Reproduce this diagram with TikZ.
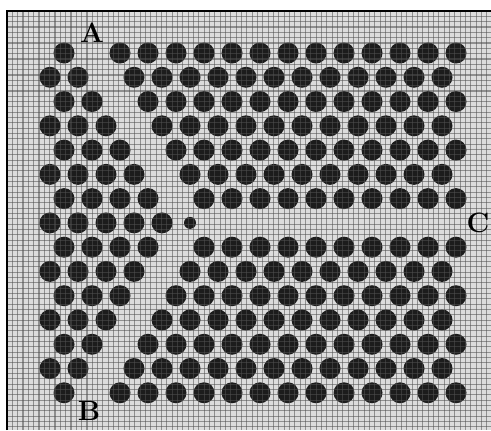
\documentclass[tikz,border=0pt]{standalone}
\usetikzlibrary{calc}
\definecolor{bgmesh}{HTML}{DCDCDC}
\definecolor{holefill}{HTML}{1C1C1C}
\definecolor{meshline}{HTML}{505050}
\tikzset{
  hole/.style={fill=holefill},
  smallhole/.style={fill=holefill},
  meshstroke/.style={draw=meshline, line width=0.55pt, opacity=0.55},
  frameline/.style={draw=black, line width=1pt},
  lbl/.style={inner sep=0pt, font=\fontsize{14}{14}\selectfont\bfseries}
}
\begin{document}
\begin{tikzpicture}[x=0.5pt,y=-0.5pt]
\useasboundingbox (0,0) rectangle (491,430);
% mesh background
\fill[bgmesh] (7,11) rectangle (491,430);
% holes: row / start x / missing index
\foreach \r/\s/\m in {0/64/1, 1/50/2, 2/64/2, 3/50/3, 4/64/3, 5/50/4, 6/64/4,
                      8/64/4, 9/50/4, 10/64/3, 11/50/3, 12/64/2, 13/50/2, 14/64/1}{
  \foreach \k in {0,...,14}{
    \ifnum\k=\m\relax\else
      \fill[hole] (\s+28*\k, 53+24.27*\r) circle (5.25pt);
    \fi
  }
}
% row 7: horizontal guide towards C
\foreach \k in {0,...,4}{
  \fill[hole] (50+28*\k, 53+24.27*7) circle (5.25pt);
}
\fill[smallhole] (190, 53+24.27*7) circle (3pt);
% mesh lines over everything
\foreach \i in {0,...,91}{
  \draw[meshstroke] (7+5.33*\i, 11) -- (7+5.33*\i, 430);
}
\foreach \j in {0,...,79}{
  \draw[meshstroke] (7, 11+5.33*\j) -- (491, 11+5.33*\j);
}
% frame (top and left)
\draw[frameline] (7,430) -- (7,11) -- (491,11);
% labels
\node[lbl] (A) at (92,33) {A};
\node[lbl] (B) at (89,411) {B};
\node[lbl] (C) at (478,223) {C};
\end{tikzpicture}
\end{document}
